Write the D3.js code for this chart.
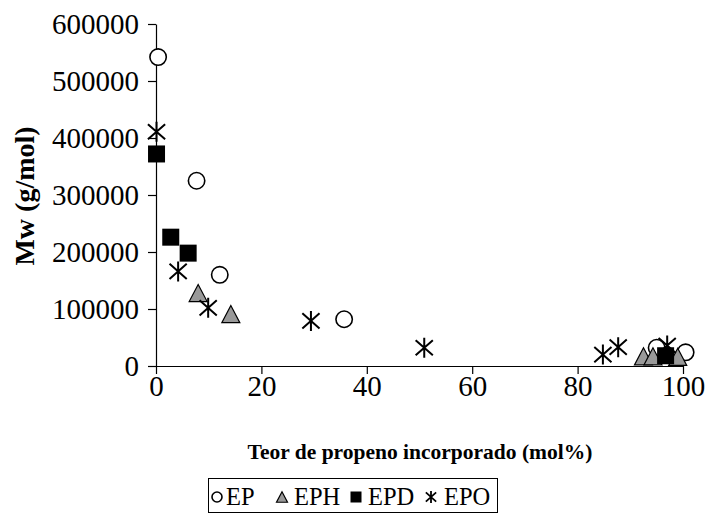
<!DOCTYPE html>
<html>
<head>
<meta charset="utf-8">
<script src="https://cdn.jsdelivr.net/npm/d3@7"></script>
<style>
  html, body { margin: 0; padding: 0; background: #fff; }
  svg { display: block; }
  text { font-family: "Liberation Serif", "Times New Roman", serif; fill: #000; }
</style>
</head>
<body>
<svg id="chart" width="712" height="519"></svg>
<script>
// Mw versus incorporated propene content, four copolymer series
const seriesNames = ["EP", "EPH", "EPD", "EPO"];

const epX = [0.4, 7.7, 12.1, 35.7, 95.0, 100.5];
const epY = [542000, 325000, 160000, 82000, 32000, 24000];

const ephX = [8.0, 14.2, 92.5, 94.3, 99.0];
const ephY = [128000, 91000, 17000, 17000, 16000];

const epdX = [0.1, 2.8, 6.1, 96.7];
const epdY = [372000, 226000, 198000, 18000];

const epoX = [0.1, 4.2, 9.9, 29.4, 50.9, 84.8, 87.7, 97.0];
const epoY = [411000, 166000, 102000, 79000, 32000, 20000, 33000, 36000];

const xTicks = [0, 20, 40, 60, 80, 100];
const yTicks = [0, 100000, 200000, 300000, 400000, 500000, 600000];

const xTitle = "Teor de propeno incorporado (mol%)";
const yTitle = "Mw (g/mol)";

const svg = d3.select("#chart");

const x = d3.scaleLinear().domain([0, 100]).range([156, 683]);
const y = d3.scaleLinear().domain([0, 600000]).range([366, 24]);

// axes
const gx = svg.append("g")
  .attr("transform", `translate(0,${y(0)})`)
  .call(d3.axisBottom(x).tickValues(xTicks).tickSize(8).tickSizeOuter(0).tickPadding(1).tickFormat(d3.format("d")));
const gy = svg.append("g")
  .attr("transform", `translate(${x(0)},0)`)
  .call(d3.axisLeft(y).tickValues(yTicks).tickSize(8).tickSizeOuter(0).tickPadding(9).tickFormat(d3.format("d")));

[gx, gy].forEach(g => {
  g.selectAll("path, line").attr("stroke", "#000").attr("stroke-width", 1.2);
  g.selectAll("text").style("font-family", "'Liberation Serif', serif").style("font-size", "29px").attr("fill", "#000");
});

// axis titles
svg.append("text")
  .attr("x", 420).attr("y", 459)
  .attr("text-anchor", "middle")
  .style("font-size", "21.5px").style("font-weight", "bold")
  .text(xTitle);
svg.append("text")
  .attr("transform", "translate(34,196) rotate(-90)")
  .attr("text-anchor", "middle")
  .style("font-size", "28px").style("font-weight", "bold")
  .text(yTitle);

// marker drawing helpers
function drawCircle(g, cx, cy, r) {
  g.append("circle").attr("cx", cx).attr("cy", cy).attr("r", r)
    .attr("fill", "#fff").attr("stroke", "#000").attr("stroke-width", 1.6);
}
function drawTriangle(g, cx, cy, s) {
  const h = s * 0.95;
  g.append("path")
    .attr("d", `M${cx},${cy - h / 2}L${cx + s / 2},${cy + h / 2}L${cx - s / 2},${cy + h / 2}Z`)
    .attr("fill", "#999999").attr("stroke", "#000").attr("stroke-width", 1.2);
}
function drawSquare(g, cx, cy, s) {
  g.append("rect").attr("x", cx - s / 2).attr("y", cy - s / 2).attr("width", s).attr("height", s)
    .attr("fill", "#000");
}
// six-armed asterisk: vertical stroke crossed by an X
function drawStar(g, cx, cy, s, w) {
  const h = s / 2, dx = s * 0.43, dy = s * 0.38;
  g.append("path")
    .attr("d", `M${cx},${cy - h}V${cy + h}M${cx - dx},${cy - dy}L${cx + dx},${cy + dy}M${cx - dx},${cy + dy}L${cx + dx},${cy - dy}`)
    .attr("stroke", "#000").attr("stroke-width", w).attr("fill", "none");
}

const plot = svg.append("g");
epX.forEach((v, i) => drawCircle(plot, x(v), y(epY[i]), 8.2));
ephX.forEach((v, i) => drawTriangle(plot, x(v), y(ephY[i]), 18));
epdX.forEach((v, i) => drawSquare(plot, x(v), y(epdY[i]), 17));
epoX.forEach((v, i) => drawStar(plot, x(v), y(epoY[i]), 20, 2));

// legend
const lg = svg.append("g");
lg.append("rect").attr("x", 208.5).attr("y", 478.5).attr("width", 289).attr("height", 34)
  .attr("fill", "#fff").attr("stroke", "#000").attr("stroke-width", 1);
const legendMarkX = [217, 282, 356, 431];
const legendTextX = [226, 294, 368, 444];
const drawers = [
  (cx, cy) => drawCircle(lg, cx, cy, 5),
  (cx, cy) => drawTriangle(lg, cx, cy, 11),
  (cx, cy) => drawSquare(lg, cx, cy, 11),
  (cx, cy) => drawStar(lg, cx, cy, 12, 1.8)
];
seriesNames.forEach((name, i) => {
  drawers[i](legendMarkX[i], 497);
  lg.append("text").attr("x", legendTextX[i]).attr("y", 505)
    .style("font-size", "24.5px").text(name);
});
</script>
</body>
</html>
